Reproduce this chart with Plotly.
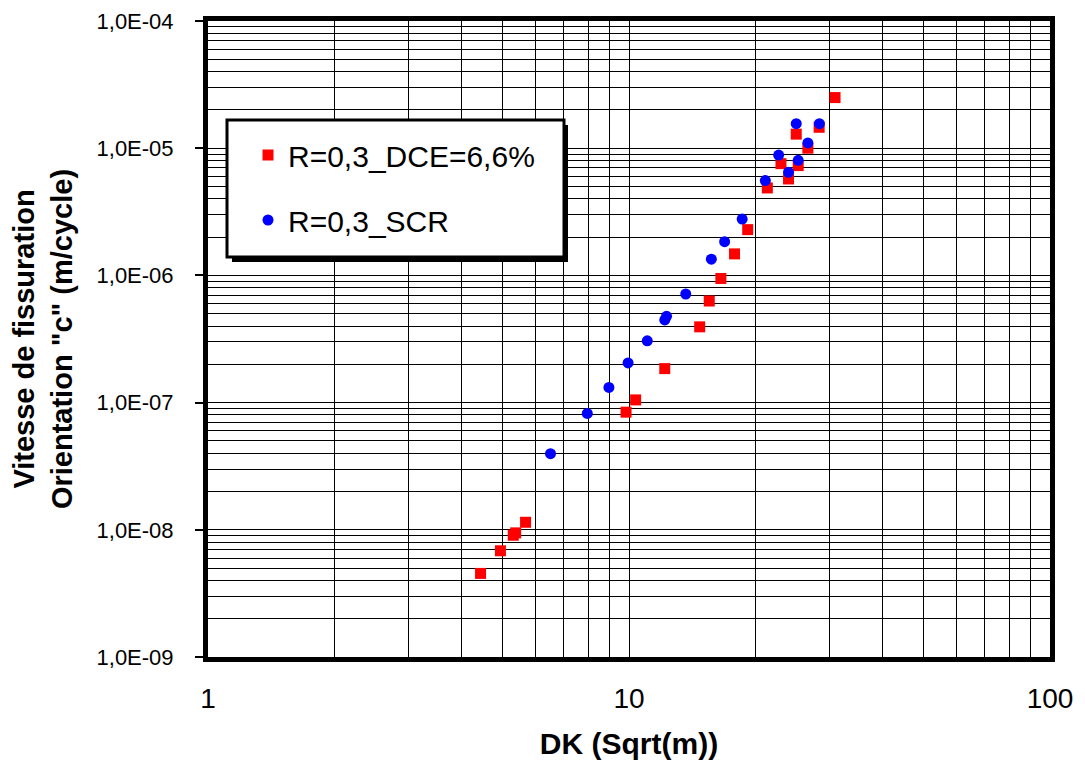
import plotly.graph_objects as go

# R=0,3_DCE=6,6% (red squares)
red_dk = [4.44, 4.95, 5.31, 5.38, 5.68, 9.84, 10.37, 12.16, 14.72, 15.51, 16.53,
          17.81, 19.14, 21.31, 22.96, 23.93, 25.23, 24.96, 26.6, 28.29, 30.86]
red_v = [4.54e-9, 6.84e-9, 9.06e-9, 9.46e-9, 1.146e-8, 8.41e-8, 1.05e-7, 1.85e-7,
         3.94e-7, 6.29e-7, 9.46e-7, 1.476e-6, 2.29e-6, 4.87e-6, 7.56e-6, 5.73e-6,
         7.3e-6, 1.29e-5, 1.0e-5, 1.46e-5, 2.5e-5]

# R=0,3_SCR (blue circles)
blue_dk = [6.51, 7.96, 8.96, 9.95, 11.05, 12.16, 12.28, 13.64, 15.69, 16.87, 18.57,
           21.08, 22.67, 23.93, 25.23, 24.96, 26.6, 28.33]
blue_v = [3.97e-8, 8.22e-8, 1.315e-7, 2.05e-7, 3.06e-7, 4.47e-7, 4.77e-7, 7.14e-7,
          1.34e-6, 1.84e-6, 2.77e-6, 5.57e-6, 8.83e-6, 6.47e-6, 8.03e-6, 1.56e-5,
          1.10e-5, 1.56e-5]

x_ticks = [1, 10, 100]
x_ticktext = ["1", "10", "100"]
y_ticks = [1e-9, 1e-8, 1e-7, 1e-6, 1e-5, 1e-4]
y_ticktext = ["1,0E-09", "1,0E-08", "1,0E-07", "1,0E-06", "1,0E-05", "1,0E-04"]

x_minor = [k * 10 ** d for d in (0, 1) for k in range(2, 10)]
y_minor = [k * 10.0 ** d for d in range(-9, -4) for k in range(2, 10)]

FONT = "Liberation Sans, Arial, sans-serif"

# the page body has an 8px margin, so the figure is drawn 8px smaller
OFF = 8
W, H = 1085 - OFF, 762 - OFF
# plot area in page pixels: x 208..1050, y 21..657
PX0, PX1, PY0, PY1 = 208 - OFF, 1050 - OFF, 21 - OFF, 657 - OFF


def px(x):
    return (x - OFF - PX0) / (PX1 - PX0)


def py(y):
    return (PY1 - (y - OFF)) / (PY1 - PY0)


fig = go.Figure()
fig.add_trace(go.Scatter(
    x=red_dk, y=red_v, mode="markers", name="R=0,3_DCE=6,6%",
    legendgroup="a",
    marker=dict(symbol="square", size=11, color="#ff0000"),
))
fig.add_trace(go.Scatter(
    x=blue_dk, y=blue_v, mode="markers", name="R=0,3_SCR",
    legendgroup="b",
    marker=dict(symbol="circle", size=11, color="#0000ff"),
))

# legend frame with shadow (drawn as shapes, legend sits on top)
fig.add_shape(type="rect", xref="paper", yref="paper",
              x0=px(232), x1=px(568), y0=py(262), y1=py(125),
              fillcolor="black", line=dict(width=0), layer="above")
fig.add_shape(type="rect", xref="paper", yref="paper",
              x0=px(227), x1=px(564), y0=py(257), y1=py(120),
              fillcolor="white", line=dict(color="black", width=3), layer="above")

fig.update_layout(
    width=W, height=H,
    paper_bgcolor="white", plot_bgcolor="white",
    font=dict(family=FONT, color="black"),
    margin=dict(l=PX0, r=W - PX1, t=PY0, b=H - PY1),
    showlegend=True,
    legend=dict(
        x=px(248), y=py(129), xanchor="left", yanchor="top",
        bgcolor="rgba(0,0,0,0)", borderwidth=0,
        font=dict(size=30, family=FONT),
        traceorder="grouped", tracegroupgap=23,
    ),
    xaxis=dict(
        type="log", range=[0, 2], automargin=False,
        tickmode="array", tickvals=x_ticks, ticktext=x_ticktext,
        tickfont=dict(size=28), ticks="", ticklabelstandoff=12,
        showgrid=True, gridcolor="black", gridwidth=1,
        minor=dict(tickvals=x_minor, showgrid=True, gridcolor="black",
                   gridwidth=1, ticks=""),
        showline=True, linecolor="black", linewidth=5, mirror=True,
        zeroline=False,
        title=dict(text="<b>DK (Sqrt(m))</b>", font=dict(size=30), standoff=22),
    ),
    yaxis=dict(
        type="log", range=[-9, -4], automargin=False,
        tickmode="array", tickvals=y_ticks, ticktext=y_ticktext,
        tickfont=dict(size=22), ticks="outside", ticklen=8, tickwidth=2,
        tickcolor="black", ticklabelstandoff=17,
        showgrid=True, gridcolor="black", gridwidth=1,
        minor=dict(tickvals=y_minor, showgrid=True, gridcolor="black",
                   gridwidth=1, ticks=""),
        showline=True, linecolor="black", linewidth=5, mirror=True,
        zeroline=False,
        title=dict(text="<b>Vitesse de fissuration<br>Orientation \"c\" (m/cycle)</b>",
                   font=dict(size=29), standoff=19),
    ),
)

fig.write_html("out.html")
